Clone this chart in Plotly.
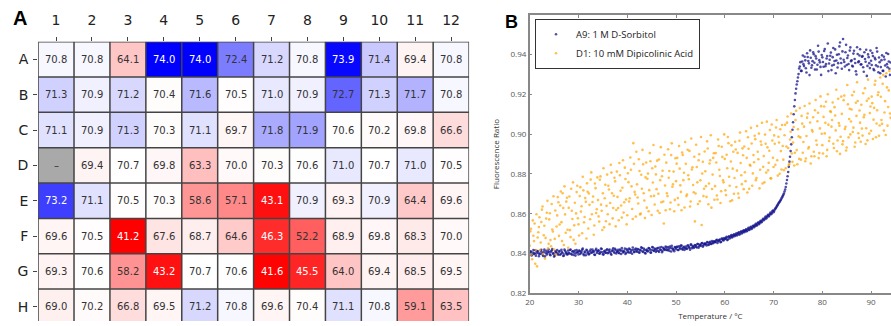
import plotly.graph_objects as go

# ---------------- Panel A data: melting temperatures per well ----------------
plate_rows = ["A", "B", "C", "D", "E", "F", "G", "H"]
plate_cols = ["1", "2", "3", "4", "5", "6", "7", "8", "9", "10", "11", "12"]
tm_A = [70.8, 70.8, 64.1, 74.0, 74.0, 72.4, 71.2, 70.8, 73.9, 71.4, 69.4, 70.8]
tm_B = [71.3, 70.9, 71.2, 70.4, 71.6, 70.5, 71.0, 70.9, 72.7, 71.3, 71.7, 70.8]
tm_C = [71.1, 70.9, 71.3, 70.3, 71.1, 69.7, 71.8, 71.9, 70.6, 70.2, 69.8, 66.6]
tm_D = [None, 69.4, 70.7, 69.8, 63.3, 70.0, 70.3, 70.6, 71.0, 70.7, 71.0, 70.5]
tm_E = [73.2, 71.1, 70.5, 70.3, 58.6, 57.1, 43.1, 70.9, 69.3, 70.9, 64.4, 69.6]
tm_F = [69.6, 70.5, 41.2, 67.6, 68.7, 64.6, 46.3, 52.2, 68.9, 69.8, 68.3, 70.0]
tm_G = [69.3, 70.6, 58.2, 43.2, 70.7, 70.6, 41.6, 45.5, 64.0, 69.4, 68.5, 69.5]
tm_H = [69.0, 70.2, 66.8, 69.5, 71.2, 70.8, 69.6, 70.4, 71.1, 70.8, 59.1, 63.5]
tm_center = 70.7
missing_label = "–"

# ---------------- Panel B data: fluorescence ratio vs temperature ----------------
temperature = [
    20.0, 20.25, 20.5, 20.75, 21.0, 21.25, 21.5, 21.75,
    22.0, 22.25, 22.5, 22.75, 23.0, 23.25, 23.5, 23.75,
    24.0, 24.25, 24.5, 24.75, 25.0, 25.25, 25.5, 25.75,
    26.0, 26.25, 26.5, 26.75, 27.0, 27.25, 27.5, 27.75,
    28.0, 28.25, 28.5, 28.75, 29.0, 29.25, 29.5, 29.75,
    30.0, 30.25, 30.5, 30.75, 31.0, 31.25, 31.5, 31.75,
    32.0, 32.25, 32.5, 32.75, 33.0, 33.25, 33.5, 33.75,
    34.0, 34.25, 34.5, 34.75, 35.0, 35.25, 35.5, 35.75,
    36.0, 36.25, 36.5, 36.75, 37.0, 37.25, 37.5, 37.75,
    38.0, 38.25, 38.5, 38.75, 39.0, 39.25, 39.5, 39.75,
    40.0, 40.25, 40.5, 40.75, 41.0, 41.25, 41.5, 41.75,
    42.0, 42.25, 42.5, 42.75, 43.0, 43.25, 43.5, 43.75,
    44.0, 44.25, 44.5, 44.75, 45.0, 45.25, 45.5, 45.75,
    46.0, 46.25, 46.5, 46.75, 47.0, 47.25, 47.5, 47.75,
    48.0, 48.25, 48.5, 48.75, 49.0, 49.25, 49.5, 49.75,
    50.0, 50.25, 50.5, 50.75, 51.0, 51.25, 51.5, 51.75,
    52.0, 52.25, 52.5, 52.75, 53.0, 53.25, 53.5, 53.75,
    54.0, 54.25, 54.5, 54.75, 55.0, 55.25, 55.5, 55.75,
    56.0, 56.25, 56.5, 56.75, 57.0, 57.25, 57.5, 57.75,
    58.0, 58.25, 58.5, 58.75, 59.0, 59.25, 59.5, 59.75,
    60.0, 60.25, 60.5, 60.75, 61.0, 61.25, 61.5, 61.75,
    62.0, 62.25, 62.5, 62.75, 63.0, 63.25, 63.5, 63.75,
    64.0, 64.25, 64.5, 64.75, 65.0, 65.25, 65.5, 65.75,
    66.0, 66.25, 66.5, 66.75, 67.0, 67.25, 67.5, 67.75,
    68.0, 68.25, 68.5, 68.75, 69.0, 69.25, 69.5, 69.75,
    70.0, 70.25, 70.5, 70.75, 71.0, 71.25, 71.5, 71.75,
    72.0, 72.25, 72.5, 72.75, 73.0, 73.25, 73.5, 73.75,
    74.0, 74.25, 74.5, 74.75, 75.0, 75.25, 75.5, 75.75,
    76.0, 76.25, 76.5, 76.75, 77.0, 77.25, 77.5, 77.75,
    78.0, 78.25, 78.5, 78.75, 79.0, 79.25, 79.5, 79.75,
    80.0, 80.25, 80.5, 80.75, 81.0, 81.25, 81.5, 81.75,
    82.0, 82.25, 82.5, 82.75, 83.0, 83.25, 83.5, 83.75,
    84.0, 84.25, 84.5, 84.75, 85.0, 85.25, 85.5, 85.75,
    86.0, 86.25, 86.5, 86.75, 87.0, 87.25, 87.5, 87.75,
    88.0, 88.25, 88.5, 88.75, 89.0, 89.25, 89.5, 89.75,
    90.0, 90.25, 90.5, 90.75, 91.0, 91.25, 91.5, 91.75,
    92.0, 92.25, 92.5, 92.75, 93.0, 93.25, 93.5, 93.75,
    94.0,
]
temperature_b = [
    20.125, 20.375, 20.625, 20.875, 21.125, 21.375, 21.625, 21.875,
    22.125, 22.375, 22.625, 22.875, 23.125, 23.375, 23.625, 23.875,
    24.125, 24.375, 24.625, 24.875, 25.125, 25.375, 25.625, 25.875,
    26.125, 26.375, 26.625, 26.875, 27.125, 27.375, 27.625, 27.875,
    28.125, 28.375, 28.625, 28.875, 29.125, 29.375, 29.625, 29.875,
    30.125, 30.375, 30.625, 30.875, 31.125, 31.375, 31.625, 31.875,
    32.125, 32.375, 32.625, 32.875, 33.125, 33.375, 33.625, 33.875,
    34.125, 34.375, 34.625, 34.875, 35.125, 35.375, 35.625, 35.875,
    36.125, 36.375, 36.625, 36.875, 37.125, 37.375, 37.625, 37.875,
    38.125, 38.375, 38.625, 38.875, 39.125, 39.375, 39.625, 39.875,
    40.125, 40.375, 40.625, 40.875, 41.125, 41.375, 41.625, 41.875,
    42.125, 42.375, 42.625, 42.875, 43.125, 43.375, 43.625, 43.875,
    44.125, 44.375, 44.625, 44.875, 45.125, 45.375, 45.625, 45.875,
    46.125, 46.375, 46.625, 46.875, 47.125, 47.375, 47.625, 47.875,
    48.125, 48.375, 48.625, 48.875, 49.125, 49.375, 49.625, 49.875,
    50.125, 50.375, 50.625, 50.875, 51.125, 51.375, 51.625, 51.875,
    52.125, 52.375, 52.625, 52.875, 53.125, 53.375, 53.625, 53.875,
    54.125, 54.375, 54.625, 54.875, 55.125, 55.375, 55.625, 55.875,
    56.125, 56.375, 56.625, 56.875, 57.125, 57.375, 57.625, 57.875,
    58.125, 58.375, 58.625, 58.875, 59.125, 59.375, 59.625, 59.875,
    60.125, 60.375, 60.625, 60.875, 61.125, 61.375, 61.625, 61.875,
    62.125, 62.375, 62.625, 62.875, 63.125, 63.375, 63.625, 63.875,
    64.125, 64.375, 64.625, 64.875, 65.125, 65.375, 65.625, 65.875,
    66.125, 66.375, 66.625, 66.875, 67.125, 67.375, 67.625, 67.875,
    68.125, 68.375, 68.625, 68.875, 69.125, 69.375, 69.625, 69.875,
    70.125, 70.375, 70.625, 70.875, 71.125, 71.375, 71.625, 71.875,
    72.125, 72.375, 72.625, 72.875, 73.125, 73.375, 73.625, 73.875,
    74.125, 74.375, 74.625, 74.875, 75.125, 75.375, 75.625, 75.875,
    76.125, 76.375, 76.625, 76.875, 77.125, 77.375, 77.625, 77.875,
    78.125, 78.375, 78.625, 78.875, 79.125, 79.375, 79.625, 79.875,
    80.125, 80.375, 80.625, 80.875, 81.125, 81.375, 81.625, 81.875,
    82.125, 82.375, 82.625, 82.875, 83.125, 83.375, 83.625, 83.875,
    84.125, 84.375, 84.625, 84.875, 85.125, 85.375, 85.625, 85.875,
    86.125, 86.375, 86.625, 86.875, 87.125, 87.375, 87.625, 87.875,
    88.125, 88.375, 88.625, 88.875, 89.125, 89.375, 89.625, 89.875,
    90.125, 90.375, 90.625, 90.875, 91.125, 91.375, 91.625, 91.875,
    92.125, 92.375, 92.625, 92.875, 93.125, 93.375, 93.625, 93.875,
]

ratio_sorbitol = [
    0.8402, 0.8410, 0.8395, 0.8418, 0.8401, 0.8389, 0.8412, 0.8404,
    0.8397, 0.8415, 0.8406, 0.8388, 0.8420, 0.8403, 0.8395, 0.8411,
    0.8408, 0.8392, 0.8416, 0.8400, 0.8385, 0.8413, 0.8405, 0.8398,
    0.8410, 0.8394, 0.8419, 0.8402, 0.8391, 0.8414, 0.8407, 0.8396,
    0.8404, 0.8418, 0.8399, 0.8411, 0.8393, 0.8415, 0.8402, 0.8409,
    0.8396, 0.8413, 0.8405, 0.8420, 0.8398, 0.8410, 0.8392, 0.8416,
    0.8408, 0.8399, 0.8421, 0.8406, 0.8412, 0.8395, 0.8417, 0.8403,
    0.8414, 0.8400, 0.8409, 0.8423, 0.8397, 0.8411, 0.8405, 0.8418,
    0.8402, 0.8416, 0.8408, 0.8394, 0.8419, 0.8410, 0.8424, 0.8401,
    0.8412, 0.8405, 0.8420, 0.8398, 0.8415, 0.8409, 0.8425, 0.8403,
    0.8417, 0.8406, 0.8422, 0.8411, 0.8399, 0.8419, 0.8408, 0.8426,
    0.8410, 0.8421, 0.8404, 0.8416, 0.8428, 0.8409, 0.8419, 0.8401,
    0.8420, 0.8412, 0.8427, 0.8406, 0.8418, 0.8431, 0.8413, 0.8422,
    0.8415, 0.8428, 0.8409, 0.8421, 0.8433, 0.8414, 0.8425, 0.8418,
    0.8430, 0.8417, 0.8424, 0.8436, 0.8411, 0.8427, 0.8420, 0.8433,
    0.8422, 0.8435, 0.8418, 0.8429, 0.8440, 0.8425, 0.8431, 0.8419,
    0.8436, 0.8424, 0.8441, 0.8430, 0.8445, 0.8427, 0.8438, 0.8433,
    0.8442, 0.8431, 0.8448, 0.8437, 0.8444, 0.8452, 0.8435, 0.8447,
    0.8450, 0.8441, 0.8456, 0.8446, 0.8459, 0.8448, 0.8455, 0.8462,
    0.8458, 0.8467, 0.8453, 0.8465, 0.8471, 0.8460, 0.8474, 0.8466,
    0.8472, 0.8480, 0.8468, 0.8483, 0.8476, 0.8489, 0.8481, 0.8492,
    0.8487, 0.8496, 0.8491, 0.8503, 0.8495, 0.8508, 0.8501, 0.8513,
    0.8507, 0.8518, 0.8512, 0.8525, 0.8519, 0.8531, 0.8524, 0.8537,
    0.8533, 0.8545, 0.8540, 0.8552, 0.8548, 0.8561, 0.8557, 0.8570,
    0.8568, 0.8580, 0.8576, 0.8590, 0.8587, 0.8600, 0.8598, 0.8612,
    0.8608, 0.8622, 0.8630, 0.8641, 0.8652, 0.8660, 0.8671, 0.8683,
    0.8695, 0.8712, 0.8735, 0.8770, 0.8810, 0.8862, 0.8915, 0.8985,
    0.9060, 0.9140, 0.9205, 0.9250, 0.9285, 0.9330, 0.9362, 0.9318,
    0.9395, 0.9342, 0.9371, 0.9310, 0.9388, 0.9356, 0.9421, 0.9334,
    0.9367, 0.9402, 0.9325, 0.9380, 0.9349, 0.9415, 0.9361, 0.9298,
    0.9386, 0.9339, 0.9428, 0.9352, 0.9393, 0.9317, 0.9374, 0.9410,
    0.9345, 0.9433, 0.9368, 0.9306, 0.9399, 0.9357, 0.9441, 0.9380,
    0.9329, 0.9478, 0.9363, 0.9412, 0.9348, 0.9395, 0.9322, 0.9436,
    0.9371, 0.9340, 0.9419, 0.9358, 0.9300, 0.9403, 0.9366, 0.9427,
    0.9351, 0.9392, 0.9314, 0.9378, 0.9424, 0.9343, 0.9387, 0.9332,
    0.9369, 0.9408, 0.9327, 0.9384, 0.9346, 0.9415, 0.9311, 0.9362,
    0.9337, 0.9396, 0.9318, 0.9375, 0.9290, 0.9352, 0.9403, 0.9329,
    0.9360,
]
ratio_sorbitol_b = [
    0.8411, 0.8391, 0.8406, 0.8398, 0.8417, 0.8401, 0.8413, 0.8387,
    0.8400, 0.8419, 0.8395, 0.8409, 0.8386, 0.8414, 0.8403, 0.8421,
    0.8396, 0.8410, 0.8423, 0.8401, 0.8390, 0.8407, 0.8418, 0.8394,
    0.8413, 0.8399, 0.8408, 0.8388, 0.8420, 0.8402, 0.8397, 0.8416,
    0.8400, 0.8421, 0.8395, 0.8412, 0.8404, 0.8390, 0.8418, 0.8407,
    0.8415, 0.8398, 0.8410, 0.8425, 0.8392, 0.8406, 0.8419, 0.8401,
    0.8396, 0.8413, 0.8404, 0.8420, 0.8409, 0.8393, 0.8424, 0.8411,
    0.8417, 0.8401, 0.8426, 0.8407, 0.8395, 0.8414, 0.8404, 0.8422,
    0.8406, 0.8421, 0.8399, 0.8413, 0.8427, 0.8403, 0.8418, 0.8409,
    0.8419, 0.8402, 0.8415, 0.8428, 0.8406, 0.8412, 0.8398, 0.8423,
    0.8410, 0.8425, 0.8404, 0.8418, 0.8431, 0.8408, 0.8421, 0.8414,
    0.8423, 0.8407, 0.8419, 0.8432, 0.8411, 0.8426, 0.8403, 0.8417,
    0.8412, 0.8428, 0.8420, 0.8405, 0.8433, 0.8416, 0.8425, 0.8409,
    0.8426, 0.8413, 0.8431, 0.8418, 0.8407, 0.8429, 0.8422, 0.8436,
    0.8419, 0.8433, 0.8414, 0.8428, 0.8439, 0.8421, 0.8412, 0.8430,
    0.8432, 0.8418, 0.8437, 0.8424, 0.8441, 0.8420, 0.8434, 0.8427,
    0.8426, 0.8441, 0.8432, 0.8420, 0.8445, 0.8434, 0.8428, 0.8443,
    0.8435, 0.8448, 0.8430, 0.8444, 0.8439, 0.8453, 0.8441, 0.8450,
    0.8447, 0.8458, 0.8443, 0.8455, 0.8449, 0.8463, 0.8452, 0.8460,
    0.8459, 0.8470, 0.8462, 0.8468, 0.8457, 0.8476, 0.8469, 0.8478,
    0.8475, 0.8484, 0.8471, 0.8487, 0.8482, 0.8493, 0.8486, 0.8497,
    0.8492, 0.8502, 0.8497, 0.8507, 0.8500, 0.8512, 0.8506, 0.8517,
    0.8513, 0.8522, 0.8516, 0.8530, 0.8523, 0.8535, 0.8529, 0.8541,
    0.8538, 0.8550, 0.8544, 0.8557, 0.8553, 0.8565, 0.8561, 0.8575,
    0.8573, 0.8586, 0.8582, 0.8595, 0.8592, 0.8606, 0.8603, 0.8617,
    0.8614, 0.8627, 0.8636, 0.8646, 0.8657, 0.8666, 0.8677, 0.8689,
    0.8702, 0.8722, 0.8752, 0.8789, 0.8836, 0.8887, 0.8949, 0.9022,
    0.9100, 0.9172, 0.9228, 0.9266, 0.9302, 0.9340, 0.9318, 0.9365,
    0.9352, 0.9389, 0.9331, 0.9407, 0.9368, 0.9297, 0.9384, 0.9346,
    0.9411, 0.9359, 0.9392, 0.9325, 0.9444, 0.9372, 0.9338, 0.9398,
    0.9363, 0.9418, 0.9341, 0.9380, 0.9456, 0.9355, 0.9394, 0.9322,
    0.9387, 0.9349, 0.9426, 0.9370, 0.9335, 0.9402, 0.9461, 0.9358,
    0.9416, 0.9374, 0.9340, 0.9449, 0.9383, 0.9353, 0.9420, 0.9367,
    0.9344, 0.9405, 0.9378, 0.9316, 0.9437, 0.9362, 0.9395, 0.9350,
    0.9389, 0.9336, 0.9412, 0.9364, 0.9293, 0.9401, 0.9357, 0.9420,
    0.9348, 0.9393, 0.9321, 0.9376, 0.9433, 0.9340, 0.9385, 0.9306,
    0.9372, 0.9319, 0.9389, 0.9345, 0.9408, 0.9336, 0.9365, 0.9298,
]

ratio_dipicolinic = [
    0.8440, 0.8525, 0.8372, 0.8490, 0.8551, 0.8418, 0.8336, 0.8507,
    0.8583, 0.8456, 0.8621, 0.8398, 0.8540, 0.8479, 0.8605, 0.8427,
    0.8572, 0.8468, 0.8649, 0.8511, 0.8420, 0.8617, 0.8536, 0.8684,
    0.8489, 0.8642, 0.8558, 0.8703, 0.8443, 0.8597, 0.8661, 0.8520,
    0.8630, 0.8518, 0.8726, 0.8574, 0.8469, 0.8655, 0.8602, 0.8741,
    0.8547, 0.8689, 0.8611, 0.8502, 0.8718, 0.8584, 0.8660, 0.8753,
    0.8526, 0.8645, 0.8772, 0.8598, 0.8687, 0.8541, 0.8729, 0.8623,
    0.8669, 0.8561, 0.8788, 0.8615, 0.8703, 0.8532, 0.8746, 0.8640,
    0.8598, 0.8722, 0.8654, 0.8807, 0.8577, 0.8691, 0.8763, 0.8619,
    0.8685, 0.8568, 0.8794, 0.8642, 0.8731, 0.8606, 0.8832, 0.8672,
    0.8593, 0.8759, 0.8678, 0.8821, 0.8624, 0.8955, 0.8710, 0.8586,
    0.8748, 0.8652, 0.8815, 0.8601, 0.8726, 0.8849, 0.8667, 0.8783,
    0.8631, 0.8802, 0.8719, 0.8864, 0.8594, 0.8757, 0.8690, 0.8838,
    0.8724, 0.8615, 0.8873, 0.8769, 0.8658, 0.8816, 0.8551, 0.8742,
    0.8857, 0.8689, 0.8781, 0.8623, 0.8895, 0.8736, 0.8812, 0.8670,
    0.8764, 0.8882, 0.8645, 0.8827, 0.8710, 0.8908, 0.8769, 0.8632,
    0.8851, 0.8697, 0.8794, 0.8916, 0.8662, 0.8823, 0.8745, 0.8887,
    0.8702, 0.8835, 0.8649, 0.8899, 0.8768, 0.8544, 0.8861, 0.8726,
    0.8814, 0.8685, 0.8928, 0.8752, 0.8869, 0.8631, 0.8797, 0.8904,
    0.8739, 0.8858, 0.8672, 0.8941, 0.8790, 0.8713, 0.8886, 0.8758,
    0.8876, 0.8694, 0.8829, 0.8955, 0.8741, 0.8863, 0.8668, 0.8912,
    0.8780, 0.8923, 0.8817, 0.8702, 0.8967, 0.8855, 0.8749, 0.8894,
    0.8938, 0.8764, 0.8881, 0.8985, 0.8726, 0.8842, 0.8953, 0.8803,
    0.8859, 0.8975, 0.8780, 0.8912, 0.9003, 0.8821, 0.8947, 0.8752,
    0.8890, 0.8998, 0.8807, 0.8934, 0.8856, 0.9021, 0.8778, 0.8968,
    0.8835, 0.8952, 0.9034, 0.8869, 0.8987, 0.8801, 0.8915, 0.9046,
    0.8872, 0.8995, 0.8829, 0.9058, 0.8931, 0.8850, 0.9012, 0.8903,
    0.8958, 0.8843, 0.9071, 0.8920, 0.9025, 0.8876, 0.8984, 0.9092,
    0.8907, 0.9038, 0.8864, 0.8991, 0.9104, 0.8936, 0.9059, 0.8889,
    0.9013, 0.8912, 0.9120, 0.8968, 0.9065, 0.8880, 0.9029, 0.9141,
    0.8945, 0.9087, 0.9004, 0.9163, 0.8921, 0.9048, 0.8983, 0.9112,
    0.9071, 0.8952, 0.9136, 0.9019, 0.8914, 0.9178, 0.9043, 0.8987,
    0.9102, 0.8965, 0.9194, 0.9037, 0.8933, 0.9150, 0.9076, 0.8999,
    0.9124, 0.9011, 0.9213, 0.8958, 0.9092, 0.9167, 0.8981, 0.9058,
    0.9148, 0.8993, 0.9085, 0.9231, 0.9030, 0.8969, 0.9179, 0.9106,
    0.9017, 0.9156, 0.9073, 0.9249, 0.8985, 0.9120, 0.9211, 0.9044,
    0.9188, 0.9052, 0.9297, 0.9109, 0.8996, 0.9235, 0.9137, 0.9318,
    0.9082,
]
ratio_dipicolinic_b = [
    0.8512, 0.8395, 0.8567, 0.8463, 0.8349, 0.8598, 0.8481, 0.8534,
    0.8418, 0.8559, 0.8637, 0.8492, 0.8375, 0.8576, 0.8665, 0.8449,
    0.8603, 0.8437, 0.8521, 0.8688, 0.8474, 0.8395, 0.8592, 0.8658,
    0.8546, 0.8712, 0.8463, 0.8629, 0.8738, 0.8505, 0.8681, 0.8429,
    0.8687, 0.8483, 0.8615, 0.8758, 0.8542, 0.8449, 0.8709, 0.8578,
    0.8491, 0.8734, 0.8638, 0.8786, 0.8557, 0.8679, 0.8476, 0.8711,
    0.8702, 0.8573, 0.8808, 0.8659, 0.8495, 0.8752, 0.8604, 0.8783,
    0.8587, 0.8771, 0.8646, 0.8519, 0.8829, 0.8678, 0.8563, 0.8797,
    0.8741, 0.8548, 0.8846, 0.8703, 0.8629, 0.8781, 0.8537, 0.8812,
    0.8629, 0.8855, 0.8716, 0.8581, 0.8869, 0.8658, 0.8775, 0.8547,
    0.8804, 0.8662, 0.8883, 0.8738, 0.8574, 0.8851, 0.8697, 0.8912,
    0.8682, 0.8874, 0.8597, 0.8796, 0.8921, 0.8703, 0.8579, 0.8858,
    0.8776, 0.8613, 0.8905, 0.8688, 0.8829, 0.8946, 0.8647, 0.8798,
    0.8867, 0.8701, 0.8604, 0.8935, 0.8789, 0.8662, 0.8897, 0.8618,
    0.8703, 0.8924, 0.8815, 0.8657, 0.8954, 0.8748, 0.8613, 0.8879,
    0.8852, 0.8679, 0.8941, 0.8743, 0.8618, 0.8896, 0.8806, 0.8961,
    0.8689, 0.8922, 0.8774, 0.8637, 0.8978, 0.8834, 0.8708, 0.8562,
    0.8947, 0.8758, 0.8869, 0.8663, 0.8986, 0.8802, 0.8689, 0.8913,
    0.8739, 0.8964, 0.8648, 0.8853, 0.8995, 0.8725, 0.8881, 0.8671,
    0.8905, 0.8692, 0.8973, 0.8821, 0.8654, 0.8937, 0.8768, 0.8999,
    0.8718, 0.8897, 0.8986, 0.8786, 0.8663, 0.8944, 0.8827, 0.8701,
    0.8962, 0.8735, 0.8906, 0.8681, 0.9008, 0.8794, 0.8929, 0.8724,
    0.8809, 0.9015, 0.8707, 0.8927, 0.8846, 0.9032, 0.8741, 0.8895,
    0.8992, 0.8769, 0.9041, 0.8874, 0.8728, 0.8963, 0.9057, 0.8836,
    0.8758, 0.8952, 0.9063, 0.8819, 0.8917, 0.8779, 0.9049, 0.8882,
    0.8994, 0.8846, 0.9071, 0.8792, 0.8958, 0.9025, 0.8823, 0.8941,
    0.8819, 0.9047, 0.8938, 0.9089, 0.8846, 0.8973, 0.9104, 0.8861,
    0.9036, 0.8907, 0.9118, 0.8849, 0.8989, 0.9131, 0.8872, 0.9053,
    0.8961, 0.9142, 0.8878, 0.9083, 0.8928, 0.9154, 0.8853, 0.9021,
    0.9085, 0.8889, 0.9172, 0.8947, 0.9108, 0.8905, 0.9190, 0.9002,
    0.8903, 0.9139, 0.9057, 0.8889, 0.9201, 0.8966, 0.9115, 0.9038,
    0.9159, 0.8931, 0.9094, 0.9223, 0.8968, 0.9056, 0.8901, 0.9189,
    0.8949, 0.9171, 0.9026, 0.8918, 0.9247, 0.8984, 0.9128, 0.9064,
    0.9196, 0.9033, 0.8937, 0.9158, 0.9261, 0.9005, 0.9119, 0.8962,
    0.9028, 0.9206, 0.9097, 0.8951, 0.9168, 0.9274, 0.9003, 0.9139,
    0.9189, 0.8976, 0.9132, 0.9268, 0.9054, 0.9197, 0.8992, 0.9285,
    0.9071, 0.9253, 0.9018, 0.9166, 0.9306, 0.9043, 0.9220, 0.9104,
]

series_names = ["A9: 1 M D-Sorbitol", "D1: 10 mM Dipicolinic Acid"]
x_title = "Temperature / °C"
y_title = "Fluorescence Ratio"
x_ticks = [20, 30, 40, 50, 60, 70, 80, 90]
y_ticks = [0.82, 0.84, 0.86, 0.88, 0.90, 0.92, 0.94]

# ---------------- build figure ----------------
W, H = 891, 326
tm = [tm_A, tm_B, tm_C, tm_D, tm_E, tm_F, tm_G, tm_H]
vals = [v for r in tm for v in r if v is not None]
vmin, vmax = min(vals), max(vals)
mid = (tm_center - vmin) / (vmax - vmin)

n_r, n_c = len(plate_rows), len(plate_cols)
xi = list(range(n_c))
yi = list(range(n_r))

fig = go.Figure()
fig.add_trace(go.Heatmap(
    z=tm, x=xi, y=yi, zmin=vmin, zmax=vmax,
    colorscale=[[0, "rgb(255,0,0)"], [mid, "rgb(255,255,255)"], [1, "rgb(0,0,255)"]],
    showscale=False, hoverongaps=False, xaxis="x", yaxis="y", showlegend=False,
))
missing = [[1 if v is None else None for v in r] for r in tm]
fig.add_trace(go.Heatmap(
    z=missing, x=xi, y=yi, zmin=0, zmax=1,
    colorscale=[[0, "#a9a9a9"], [1, "#a9a9a9"]],
    showscale=False, hoverongaps=False, xaxis="x", yaxis="y", showlegend=False,
))

annotations = []
for r in range(n_r):
    for c in range(n_c):
        v = tm[r][c]
        if v is None:
            txt, col = missing_label, "#333333"
        else:
            if v >= tm_center:
                inten = (v - tm_center) / (vmax - tm_center)
            else:
                inten = (tm_center - v) / (tm_center - vmin)
            txt = f"{v:.1f}"
            col = "white" if inten > 0.7 else "#333333"
        annotations.append(dict(
            x=c, y=r, xref="x", yref="y", text=txt, showarrow=False,
            font=dict(family="DejaVu Sans", size=10, color=col),
        ))

shapes = []
for c in range(n_c + 1):
    shapes.append(dict(type="line", xref="x", yref="y", x0=c - 0.5, x1=c - 0.5,
                       y0=-0.5, y1=n_r - 0.5, line=dict(color="#444444", width=1.5)))
for r in range(n_r + 1):
    shapes.append(dict(type="line", xref="x", yref="y", x0=-0.5, x1=n_c - 0.5,
                       y0=r - 0.5, y1=r - 0.5, line=dict(color="#444444", width=1.5)))

# scatter panel
fig.add_trace(go.Scatter(
    x=temperature + temperature_b, y=ratio_sorbitol + ratio_sorbitol_b,
    mode="markers", name=series_names[0],
    marker=dict(color="rgba(20,20,140,0.75)", size=2.6, line=dict(width=0)),
    xaxis="x2", yaxis="y2",
))
fig.add_trace(go.Scatter(
    x=temperature + temperature_b, y=ratio_dipicolinic + ratio_dipicolinic_b,
    mode="markers", name=series_names[1],
    marker=dict(color="rgba(255,165,0,0.7)", size=2.6, line=dict(width=0)),
    xaxis="x2", yaxis="y2",
))

# panel letters
annotations.append(dict(x=15 / W, y=1 - 18 / H, xref="paper", yref="paper", text="<b>A</b>",
                        xanchor="center", yanchor="middle", showarrow=False,
                        font=dict(family="Liberation Sans", size=20, color="black")))
annotations.append(dict(x=509 / W, y=1 - 22 / H, xref="paper", yref="paper", text="<b>B</b>",
                        xanchor="center", yanchor="middle", showarrow=False,
                        font=dict(family="Liberation Sans", size=18, color="black")))

top_px, row_px = 42.3, 35.9
y_bottom_val = -0.5 + (H - top_px) / row_px

fig.update_layout(
    width=W, height=H, margin=dict(l=0, r=0, t=0, b=0),
    paper_bgcolor="white", plot_bgcolor="white",
    showlegend=True,
    legend=dict(x=533 / W, y=1 - 19 / H, xanchor="left", yanchor="top",
                bordercolor="#333333", borderwidth=1, bgcolor="white",
                font=dict(family="Open Sans", size=9.5, color="#222222"),
                itemsizing="trace", tracegroupgap=0),
    xaxis=dict(domain=[33.3 / W, 466.7 / W], range=[-0.5, n_c - 0.5], side="top",
               tickvals=xi, ticktext=plate_cols, ticks="outside", ticklen=4, tickcolor="#444444",
               ticklabelstandoff=6, showgrid=False, zeroline=False, anchor="y",
               tickfont=dict(family="DejaVu Sans", size=14, color="#222222")),
    yaxis=dict(domain=[0, 1 - top_px / H], range=[y_bottom_val, -0.5],
               tickvals=yi, ticktext=plate_rows, ticks="outside", ticklen=4, tickcolor="#444444",
               ticklabelstandoff=2, showgrid=False, zeroline=False, anchor="x",
               tickfont=dict(family="DejaVu Sans", size=14, color="#222222")),
    xaxis2=dict(domain=[527.7 / W, 1.0], range=[20, 20 + (W - 527.7) / 4.904], anchor="y2",
                tickvals=x_ticks, ticks="inside", ticklen=3, tickcolor="#888888",
                showline=True, linecolor="#888888", linewidth=1.5, mirror="ticks",
                showgrid=False, zeroline=False,
                tickfont=dict(family="Open Sans", size=8, color="#555555"),
                title=dict(text=x_title, standoff=8,
                           font=dict(family="Open Sans", size=8, color="#333333"))),
    yaxis2=dict(domain=[1 - 298 / H, 1 - 15 / H], range=[0.82, 0.96], anchor="x2",
                tickvals=y_ticks, tickformat=".2f", ticks="inside", ticklen=3, tickcolor="#888888",
                showline=True, linecolor="#888888", linewidth=1.5,
                showgrid=False, zeroline=False,
                tickfont=dict(family="Open Sans", size=8, color="#555555"),
                title=dict(text=y_title, standoff=10,
                           font=dict(family="Open Sans", size=8, color="#333333"))),
    annotations=annotations, shapes=shapes,
)

fig.write_html("out.html")
